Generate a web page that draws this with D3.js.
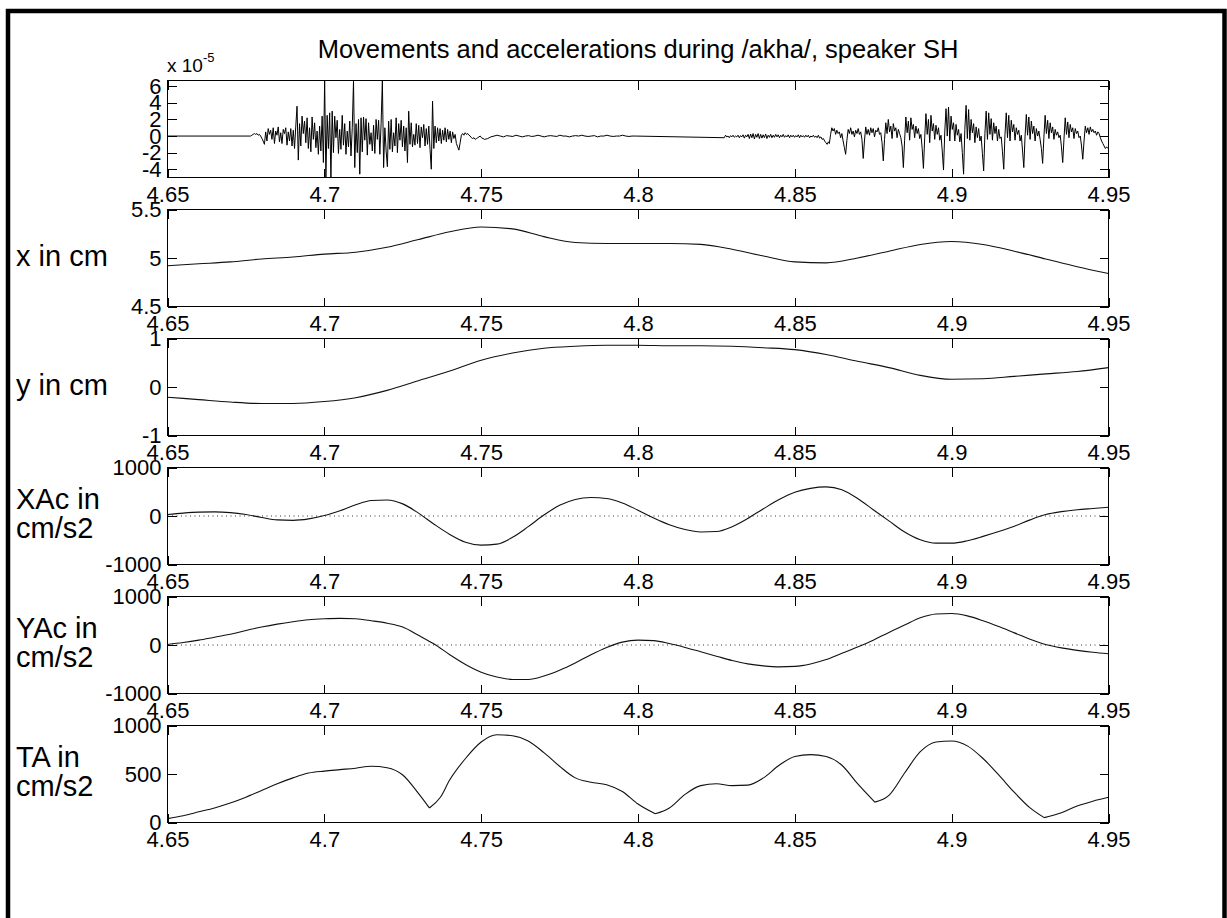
<!DOCTYPE html>
<html>
<head>
<meta charset="utf-8">
<script src="https://cdn.jsdelivr.net/npm/d3@7"></script>
<style>
  body { margin: 0; background: #fff; }
  svg { display: block; }
  text { font-family: "Liberation Sans", Arial, Helvetica, sans-serif; fill: #000; }
</style>
</head>
<body>
<svg id="chart" width="1227" height="918"></svg>
<script>
// ---------------------------------------------------------------
// Time axis shared by all panels (seconds)
const timeDomain = [4.65, 4.95];
const timeTicks = [4.65, 4.7, 4.75, 4.8, 4.85, 4.9, 4.95];
const timeTickLabels = ["4.65", "4.7", "4.75", "4.8", "4.85", "4.9", "4.95"];

// Acoustic signal in units of 1e-5, stored as runs of evenly spaced samples
const sigStart = 4.65, sigEnd = 4.95;
const burstStart = 4.6765, burstStep = 0.0004;
const burstVals = [
  0, 0.1, 0.2, 0.3, 0.2, 0.3, 0.1, 0.2, 0, -0.3, -0.6,
  -1.0, 0.5, -0.6, 0.9, 0.2, 0.7, -0.4, 1.0, -0.9, 0.6, 0.1, 1.1, -0.7, 0.4, -0.9, 0.8, 0.3, 1.0, -1.1, 0.5, -0.6, 0.9, -1.2, 0.7, -1.5, 1.2,
  3.6, -2.9,
  1.5, -1.2, 2.4, 0.3, 1.8, -0.8, 2.2, -1.5, 1.0, -1.9, 2.3, -0.4, 1.6, -1.4, 0.6, -2.2, 1.2, -1.8, 2.4, -3.2,
  6.7, -5.0, 2.5, -1.5, 2.8, -5.0, 3.0,
  -2.0, 2.4, -0.2, 1.9, -2.1, 0.8, -1.6, 2.5, -1.1, 1.5, -2.2, 0.6, -1.3, 1.8, -2.4, 1.0,
  6.6, -3.8, 1.5, -2.0, 2.0, -4.6, 2.2,
  -1.9, 2.3, -0.5, 2.1, -2.3, 1.6, -1.0, 0.4, -1.8, 1.3, -2.1, 2.0, -0.4, 1.9, -2.2, 1.5,
  6.7, -3.8, 1.0, -1.8, -3.7, 1.8,
  -1.6, 2.0, -1.9, 0.4, -1.2, 2.2, -2.0, 1.5, -0.5, 1.9, -1.3, 1.2, -1.8, 1.0,
  -3.2, 3.0, -1.0,
  1.6, -1.3, 0.2, -1.1, 1.5, -0.9, 1.3, -1.4, 1.1, -0.2, 1.4, -1.2, 0.9, -1.0, 1.2, -1.6,
  -4.0, 4.2, -1.5, 1.2,
  -0.8, 1.0, -0.6, 0.9, -0.9, 0.7, -0.5, 1.0, -0.7, 0.8, -0.4, 0.6, -0.8, 0.5, -0.3, 0.2, -0.9, -1.3,
  -1.7, -0.8, 0.1, 0.3, 0.1, 0.4, 0.2, 0.3, 0.1, 0, -0.2, -0.3, -0.2, -0.4, -0.3, -0.2, -0.1, 0
];
const tailStart = 4.7501, tailStep = 0.001;
const tailVals = [
  -0.2, -0.4, -0.3, -0.1, 0, 0.1, 0, -0.1, 0.05, 0,
  -0.05, 0.1, 0, -0.1, 0, 0.05, -0.05, 0, 0.1, 0,
  -0.1, 0, 0.05, 0, -0.05, 0.1, 0, 0, -0.1, 0,
  0.05, 0, 0.1, 0, -0.05, 0, 0.05, -0.1, 0, 0,
  0.1, 0, -0.05, 0, 0, 0.1, 0, -0.05, 0, 0
];
const fricStart = 4.8275, fricStep = 0.0004;
const fricVals = [
  -0.2, 0.1, -0.1, 0, -0.2, 0.05, -0.1, 0.1, -0.15, 0,
  -0.1, 0.1, -0.2, 0.05, -0.1, 0.15, -0.25, 0.1, -0.1, 0.2,
  -0.3, 0.25, -0.2, 0.3, -0.35, 0.2, -0.15, 0.3, -0.3, 0.2,
  -0.25, 0.15, -0.2, 0.25, -0.3, 0.1, -0.15, 0.2, -0.2, 0.1,
  -0.15, 0.2, -0.1, 0.15, -0.2, 0.1, -0.1, 0.2, -0.15, 0.05,
  -0.1, 0.15, -0.2, 0.1, -0.1, 0.1, -0.15, 0.05, -0.1, 0.15,
  -0.2, 0.1, -0.1, 0.05, -0.15, 0.1, -0.1, 0.1, -0.2, 0,
  -0.1, 0.1, -0.15, 0, -0.2, 0.1, -0.25, -0.1, -0.4, -0.3,
  -0.6, -0.8, -1.0, -0.7
];
const voicedStart = 4.861, voicedStep = 0.0004;
const voicedVals = [
  -0.9, 0.2, 1.0, 0.6, 0.9, 0.2, 0.7, 0.3, 0.5, -0.2, 0.3, -0.6, -1.4,
  -2.2, -0.5, 0.8, 0.3, 1.0, 0.2, 0.6, -0.1, 0.7, 0.3, 0.9, 0.2, 0.5, -0.4,
  -2.7, -0.6, 1.1, 0.2, 0.8, 0.1, 1.0, 0.4, 0.9, -0.1, 0.7, 0.5, 1.0, 0.2, 0.4, -0.8,
  -3.0, -0.4, 1.6, 0.3, 2.0, 0.5, 1.2, -0.3, 1.5, 0.6, 1.0, -0.2, 0.8, 0.3, -0.2, -1.2,
  -3.8, -0.5, 2.3, 0.4, 1.8, -0.5, 2.2, 0.8, 1.4, -0.2, 1.2, 0.3, 0.9, -0.3, 0.2, -1.5,
  -3.9, -0.2, 2.7, 0.2, 2.0, -0.8, 2.5, 0.6, 1.5, -0.4, 1.3, 0.2, 1.0, -0.5, 0.1, -1.8,
  -4.1, 0.5, 3.3, 0.0, 3.5, -0.6, 2.4, 0.8, 1.6, -0.6, 1.4, 0.1, 0.8, -0.7, 0.3, -2.0,
  -4.6, 0.8, 3.7, -0.3, 3.2, -0.5, 2.0, 0.4, 1.5, -0.8, 1.1, -0.2, 0.9, -0.6, 0.0, -2.1,
  -4.2, 0.3, 3.0, -0.4, 2.8, 0.2, 2.1, -0.5, 1.6, 0.3, 1.2, -0.6, 0.8, -0.3, -0.1, -1.9,
  -4.0, 0.2, 2.8, -0.2, 2.5, -0.6, 1.9, 0.5, 1.4, -0.5, 1.0, 0.2, 0.7, -0.6, 0.1, -1.8,
  -3.8, 0.0, 2.6, 0.1, 2.3, -0.4, 1.8, 0.3, 1.2, -0.6, 0.9, 0.0, 0.6, -0.4, -1.5,
  -3.3, -0.2, 2.5, 0.3, 1.9, -0.3, 1.6, 0.4, 1.1, -0.4, 0.8, 0.1, 0.5, -0.2, 0.1, -1.3,
  -3.2, -0.4, 2.2, 0.2, 1.7, -0.2, 1.4, 0.5, 1.0, -0.3, 0.9, 0.3, 0.6, -0.2, 0.0, -1.2,
  -2.8, -0.6, 1.2, 0.4, 1.0, 0.2, 1.1, 0.5, 0.8, 0.4, 0.6, 0.1, 0.5, 0.3, -0.2, -0.6, -0.9, -1.2, -1.5, -1.3, -1.5
];
const sigTicks = [-4, -2, 0, 2, 4, 6];
const sigTickLabels = ["-4", "-2", "0", "2", "4", "6"];

// Articulator positions (cm), sampled every 10 ms
const moveTimes = [4.65, 4.66, 4.67, 4.68, 4.69, 4.70, 4.71, 4.72, 4.73, 4.74, 4.75,
  4.76, 4.77, 4.78, 4.79, 4.80, 4.81, 4.82, 4.83, 4.84, 4.85,
  4.86, 4.87, 4.88, 4.89, 4.90, 4.91, 4.92, 4.93, 4.94, 4.95];
const xPos = [4.92, 4.94, 4.96, 4.99, 5.01, 5.04, 5.06, 5.11, 5.19, 5.27, 5.32,
  5.30, 5.22, 5.16, 5.15, 5.15, 5.15, 5.14, 5.09, 5.02, 4.96,
  4.95, 5.00, 5.07, 5.14, 5.17, 5.14, 5.07, 4.99, 4.91, 4.84];
const yPos = [-0.21, -0.26, -0.31, -0.34, -0.34, -0.30, -0.22, -0.07, 0.13, 0.33, 0.55,
  0.70, 0.80, 0.84, 0.86, 0.86, 0.85, 0.85, 0.84, 0.81, 0.77,
  0.67, 0.53, 0.40, 0.24, 0.16, 0.17, 0.22, 0.27, 0.32, 0.40];

// Accelerations (cm/s2), sampled every 5 ms
const accTimes = [4.65, 4.655, 4.66, 4.665, 4.67, 4.675, 4.68, 4.685, 4.69, 4.695,
  4.7, 4.705, 4.71, 4.715, 4.72, 4.725, 4.73, 4.735, 4.74, 4.745,
  4.75, 4.755, 4.76, 4.765, 4.77, 4.775, 4.78, 4.785, 4.79, 4.795,
  4.8, 4.805, 4.81, 4.815, 4.82, 4.825, 4.83, 4.835, 4.84, 4.845,
  4.85, 4.855, 4.86, 4.865, 4.87, 4.875, 4.88, 4.885, 4.89, 4.895,
  4.9, 4.905, 4.91, 4.915, 4.92, 4.925, 4.93, 4.935, 4.94, 4.945, 4.95];
const xAcc = [30, 60, 80, 85, 70, 30, -30, -80, -90, -60,
  10, 110, 230, 320, 330, 250, 60, -170, -380, -540,
  -600, -580, -440, -220, 20, 220, 340, 380, 360, 270,
  120, -40, -180, -280, -330, -320, -220, -50, 150, 340,
  490, 570, 600, 540, 360, 130, -100, -330, -490, -560,
  -560, -510, -420, -320, -210, -80, 30, 90, 130, 155, 180];
const yAcc = [10, 50, 100, 160, 220, 300, 370, 430, 480, 520,
  540, 550, 540, 500, 450, 370, 200, 20, -200, -400,
  -560, -660, -710, -710, -640, -520, -370, -200, -50, 60,
  100, 90, 30, -50, -140, -230, -320, -390, -430, -450,
  -440, -390, -300, -170, -40, 100, 260, 410, 560, 640,
  650, 600, 500, 380, 250, 120, 10, -60, -110, -150, -180];
const accTicks = [-1000, 0, 1000];
const accTickLabels = ["-1000", "0", "1000"];

// Total acceleration (cm/s2); extra samples at the sharp minima
const taTimes = [4.65, 4.655, 4.66, 4.665, 4.67, 4.675, 4.68, 4.685, 4.69, 4.695,
  4.7, 4.705, 4.71, 4.715, 4.72, 4.725, 4.73, 4.7335, 4.737,
  4.74, 4.745, 4.75, 4.755, 4.76, 4.765, 4.77, 4.775, 4.78, 4.785, 4.79, 4.795, 4.8, 4.8055,
  4.81, 4.815, 4.82, 4.825, 4.83, 4.835, 4.84, 4.845, 4.85, 4.855, 4.86, 4.865, 4.87, 4.8755,
  4.88, 4.885, 4.89, 4.895, 4.9, 4.905, 4.91, 4.915, 4.92, 4.925, 4.9295,
  4.935, 4.94, 4.945, 4.95];
const taVals = [40, 70, 110, 150, 200, 260, 330, 400, 460, 510,
  530, 545, 560, 580, 565, 490, 300, 150, 260,
  440, 660, 830, 905, 895, 840, 720, 580, 460, 415, 390, 320, 190, 90,
  150, 290, 380, 400, 380, 385, 460, 590, 680, 700, 680, 590, 400, 210,
  280, 510, 730, 830, 840, 790, 660, 490, 310, 150, 50,
  100, 170, 220, 260];
const taCusps = [4.7335, 4.8055, 4.8755, 4.9295];
const taTicks = [0, 500, 1000];
const taTickLabels = ["0", "500", "1000"];

// Panel titles on the left
const panelNames = [[], ["x in cm"], ["y in cm"], ["XAc in", "cm/s2"], ["YAc in", "cm/s2"], ["TA in", "cm/s2"]];
const chartTitle = "Movements and accelerations during /akha/, speaker SH";

// ---------------------------------------------------------------
// Build point lists
function run(start, step, vals) {
  return vals.map((v, i) => ({ t: start + i * step, v }));
}
const signal = [].concat(
  [{ t: sigStart, v: 0 }],
  run(burstStart, burstStep, burstVals),
  run(tailStart, tailStep, tailVals),
  run(fricStart, fricStep, fricVals),
  run(voicedStart, voicedStep, voicedVals)
).filter(d => d.t <= sigEnd + 1e-9);

const zip = (ts, vs) => ts.map((t, i) => ({ t, v: vs[i] }));

const panels = [
  { domain: [-5.0, 6.7], ticks: sigTicks, tickLabels: sigTickLabels, data: signal, curve: d3.curveLinear, zero: false, cusps: [] },
  { domain: [4.5, 5.5], ticks: [4.5, 5, 5.5], tickLabels: ["4.5", "5", "5.5"], data: zip(moveTimes, xPos), curve: d3.curveMonotoneX, zero: false, cusps: [] },
  { domain: [-1, 1], ticks: [-1, 0, 1], tickLabels: ["-1", "0", "1"], data: zip(moveTimes, yPos), curve: d3.curveMonotoneX, zero: false, cusps: [] },
  { domain: [-1000, 1000], ticks: accTicks, tickLabels: accTickLabels, data: zip(accTimes, xAcc), curve: d3.curveMonotoneX, zero: true, cusps: [] },
  { domain: [-1000, 1000], ticks: accTicks, tickLabels: accTickLabels, data: zip(accTimes, yAcc), curve: d3.curveMonotoneX, zero: true, cusps: [] },
  { domain: [0, 1000], ticks: taTicks, tickLabels: taTickLabels, data: zip(taTimes, taVals), curve: d3.curveMonotoneX, zero: false, cusps: taCusps }
];

// ---------------------------------------------------------------
// Layout
const W = 1227, H = 918;
const left = 167.5, right = 1108.5;
const firstTop = 80.5, pitch = 129, panelH = 97;
const tickLen = 9;

const svg = d3.select("#chart");
svg.append("rect").attr("width", W).attr("height", H).attr("fill", "#fff");

// thick outer frame
svg.append("rect")
  .attr("x", 8).attr("y", 11).attr("width", 1216.5).attr("height", 1000)
  .attr("fill", "none").attr("stroke", "#000").attr("stroke-width", 4.5);

const x = d3.scaleLinear().domain(timeDomain).range([left, right]);

svg.append("text")
  .attr("x", (left + right) / 2).attr("y", 58)
  .attr("text-anchor", "middle")
  .style("font-size", "25.5px")
  .text(chartTitle);

// exponent note for the signal panel
const expo = svg.append("text").attr("x", 167).attr("y", 72).style("font-size", "19px");
expo.append("tspan").text("x 10");
expo.append("tspan").attr("dy", -10).style("font-size", "13px").text("-5");

panels.forEach((p, k) => {
  const top = firstTop + k * pitch, bottom = top + panelH;
  const y = d3.scaleLinear().domain(p.domain).range([bottom, top]);
  const g = svg.append("g");

  const clipId = "clip" + k;
  svg.append("clipPath").attr("id", clipId)
    .append("rect").attr("x", left).attr("y", top).attr("width", right - left).attr("height", panelH);

  if (p.zero) {
    g.append("line")
      .attr("x1", left).attr("x2", right).attr("y1", y(0)).attr("y2", y(0))
      .attr("stroke", "#333").attr("stroke-width", 1).attr("stroke-dasharray", "1,3.5");
  }

  // series
  const line = d3.line().x(d => x(d.t)).y(d => y(d.v)).curve(p.curve);
  let pathD;
  if (p.cusps.length) {
    // split at the cusps so each minimum stays a sharp corner
    const segs = [];
    let cur = [];
    p.data.forEach(d => {
      cur.push(d);
      if (p.cusps.some(c => Math.abs(c - d.t) < 1e-9)) { segs.push(cur); cur = [d]; }
    });
    if (cur.length > 1) segs.push(cur);
    pathD = segs.map(s => line(s)).join("");
  } else {
    pathD = line(p.data);
  }
  g.append("path")
    .attr("d", pathD)
    .attr("clip-path", `url(#${clipId})`)
    .attr("fill", "none")
    .attr("stroke", k === 0 ? "#000" : "#111")
    .attr("stroke-width", k === 0 ? 1 : 1.1)
    .attr("stroke-linejoin", "round");

  // frame
  g.append("rect")
    .attr("x", left).attr("y", top).attr("width", right - left).attr("height", panelH)
    .attr("fill", "none").attr("stroke", "#000").attr("stroke-width", 1)
    .attr("shape-rendering", "crispEdges");

  // left axis: ticks inside, labels outside
  const yl = g.append("g").attr("transform", `translate(${left},0)`)
    .call(d3.axisLeft(y).tickValues(p.ticks)
      .tickFormat((d, i) => p.tickLabels[i])
      .tickSizeInner(-tickLen).tickSizeOuter(0).tickPadding(6));
  // right axis: ticks only
  const yr = g.append("g").attr("transform", `translate(${right},0)`)
    .call(d3.axisRight(y).tickValues(p.ticks).tickFormat("")
      .tickSizeInner(-tickLen).tickSizeOuter(0));
  // top axis: ticks only
  const xt = g.append("g").attr("transform", `translate(0,${top})`)
    .call(d3.axisTop(x).tickValues(timeTicks).tickFormat("")
      .tickSizeInner(-tickLen).tickSizeOuter(0));
  // bottom axis: ticks inside, labels below
  const xb = g.append("g").attr("transform", `translate(0,${bottom})`)
    .call(d3.axisBottom(x).tickValues(timeTicks)
      .tickFormat((d, i) => timeTickLabels[i])
      .tickSizeInner(-tickLen).tickSizeOuter(0).tickPadding(9));

  [yl, yr, xt, xb].forEach(a => {
    a.select(".domain").remove();
    a.attr("font-family", null).attr("font-size", null);
    a.selectAll("line").attr("stroke", "#000").attr("shape-rendering", "crispEdges");
    a.selectAll("text").style("font-size", "22px").attr("fill", "#000");
  });

  // left-hand panel name
  const names = panelNames[k];
  const mid = (top + bottom) / 2;
  names.forEach((s, j) => {
    const base = names.length === 1 ? mid + 7.5 : mid - 7 + j * 28.5;
    svg.append("text")
      .attr("x", 16).attr("y", base)
      .style("font-size", "29px")
      .text(s);
  });
});
</script>
</body>
</html>
